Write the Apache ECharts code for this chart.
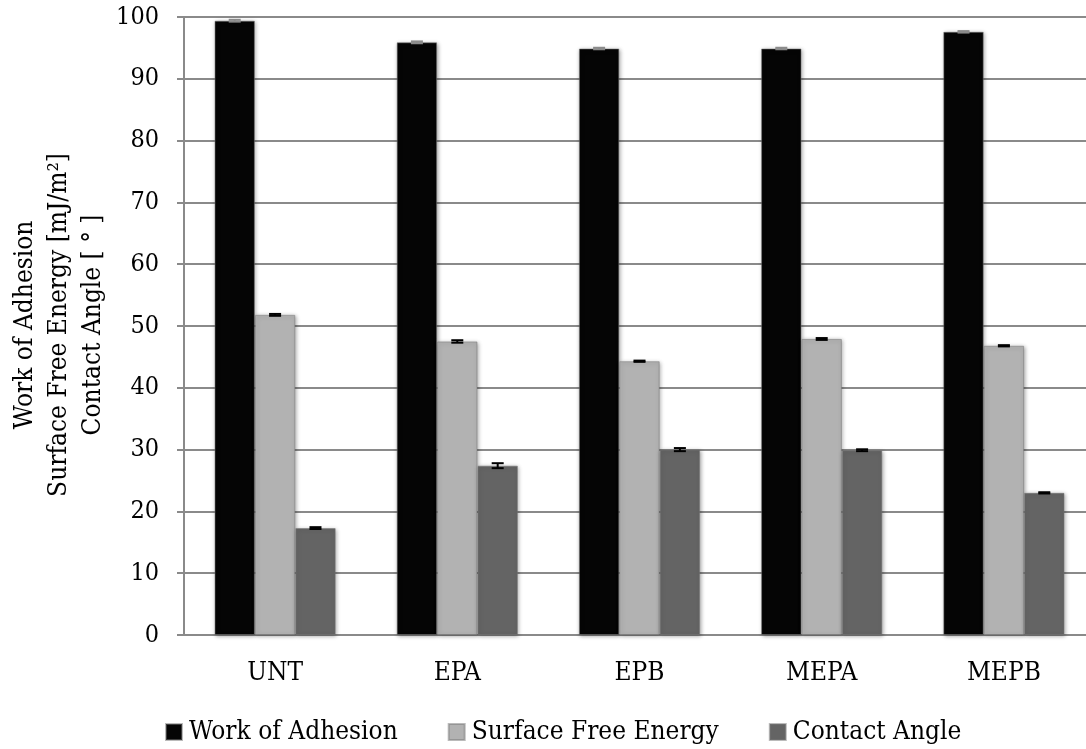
<!DOCTYPE html>
<html>
<head>
<meta charset="utf-8">
<script src="https://cdn.jsdelivr.net/npm/echarts@6/dist/echarts.min.js"></script>
<style>
  html, body { margin: 0; padding: 0; background: #fff; }
  #main { width: 1086px; height: 749px; }
</style>
</head>
<body>
<div id="main"></div>
<script>
// categories and values
var categories = ['UNT', 'EPA', 'EPB', 'MEPA', 'MEPB'];
var seriesNames = ['Work of Adhesion', 'Surface Free Energy', 'Contact Angle'];
var workAdhesion = [99.4, 95.9, 94.9, 94.9, 97.6];
var surfaceEnergy = [51.8, 47.5, 44.3, 47.9, 46.8];
var contactAngle = [17.3, 27.4, 30.0, 29.9, 23.0];
// error bar half widths
var workErr = [0.15, 0.15, 0.12, 0.12, 0.12];
var surfaceErr = [0.15, 0.2, 0.1, 0.15, 0.1];
var angleErr = [0.15, 0.4, 0.25, 0.15, 0.1];
var yTicks = [0, 10, 20, 30, 40, 50, 60, 70, 80, 90, 100];

var barColors = ['#050505', '#b2b2b2', '#646464'];
var errColors = ['#8a8a8a', '#000', '#000'];
var catGap = 0.335;
var serifCond = '"DejaVu Serif Condensed", "DejaVu Serif", serif';

function errData(vals, errs) {
	var out = [];
	for (var i = 0; i < vals.length; i++) {
		out.push([i, vals[i], errs[i]]);
	}
	return out;
}

function errRender(idx) {
	return function (params, api) {
		var cat = api.value(0);
		var v = api.value(1);
		var e = api.value(2);
		var bandW = api.size([1, 0])[0];
		var barW = bandW * (1 - catGap) / 3;
		var x = api.coord([cat, v])[0] + (idx - 1) * barW;
		var yHi = api.coord([cat, v + e])[1];
		var yLo = api.coord([cat, v - e])[1];
		var half = 6;
		var st = { stroke: errColors[idx], lineWidth: 2 };
		return {
			type: 'group',
			children: [
				{ type: 'line', shape: { x1: x, y1: yHi, x2: x, y2: yLo }, style: st },
				{ type: 'line', shape: { x1: x - half, y1: yHi, x2: x + half, y2: yHi }, style: st },
				{ type: 'line', shape: { x1: x - half, y1: yLo, x2: x + half, y2: yLo }, style: st }
			]
		};
	};
}

var allVals = [workAdhesion, surfaceEnergy, contactAngle];
var allErrs = [workErr, surfaceErr, angleErr];
var series = [];
for (var s = 0; s < 3; s++) {
	series.push({
		name: seriesNames[s],
		type: 'bar',
		data: allVals[s],
		barGap: '0%',
		barCategoryGap: (catGap * 100) + '%',
		itemStyle: {
			color: barColors[s],
			borderColor: 'rgba(120,120,120,0.5)',
			borderWidth: 1,
			shadowBlur: 4,
			shadowColor: 'rgba(0,0,0,0.35)',
			shadowOffsetX: 1,
			shadowOffsetY: 1
		},
		z: 2
	});
}
for (var s = 0; s < 3; s++) {
	series.push({
		type: 'custom',
		renderItem: errRender(s),
		data: errData(allVals[s], allErrs[s]),
		encode: { x: 0, y: 1 },
		silent: true,
		z: 5
	});
}

var option = {
	backgroundColor: '#fff',
	animation: false,
	grid: {
		left: 184,
		top: 17,
		width: 911,
		height: 618,
		outerBoundsMode: 'none'
	},
	legend: {
		data: seriesNames,
		top: 714,
		left: 160,
		itemWidth: 16,
		itemHeight: 16,
		itemGap: 50,
		icon: 'rect',
		textStyle: {
			color: '#000',
			fontSize: 26,
			fontFamily: serifCond,
			padding: [0, 0, 0, 2]
		}
	},
	xAxis: {
		type: 'category',
		data: categories,
		axisLine: { lineStyle: { color: '#8a8a8a', width: 2 } },
		axisTick: { show: false },
		axisLabel: {
			color: '#000',
			fontSize: 26,
			fontFamily: serifCond,
			margin: 25
		}
	},
	yAxis: {
		type: 'value',
		min: yTicks[0],
		max: yTicks[yTicks.length - 1],
		interval: 10,
		axisLine: { show: true, lineStyle: { color: '#8a8a8a', width: 2 } },
		axisTick: { show: true, length: 7, lineStyle: { color: '#8a8a8a', width: 2 } },
		splitLine: { lineStyle: { color: '#8a8a8a', width: 2 } },
		axisLabel: {
			color: '#000',
			fontSize: 25,
			fontFamily: serifCond,
			margin: 25
		}
	},
	graphic: [{
		type: 'text',
		x: 59,
		y: 325,
		rotation: Math.PI / 2,
		style: {
			text: 'Work of Adhesion\nSurface Free Energy [mJ/m²]\nContact Angle [ ° ]',
			align: 'center',
			verticalAlign: 'middle',
			fill: '#000',
			fontSize: 26,
			lineHeight: 34,
			fontFamily: serifCond
		}
	}],
	series: series
};

var dom = document.getElementById('main');
var myChart = echarts.init(dom);
if (option && typeof option === 'object') {
	myChart.setOption(option, true);
}
</script>
</body>
</html>
